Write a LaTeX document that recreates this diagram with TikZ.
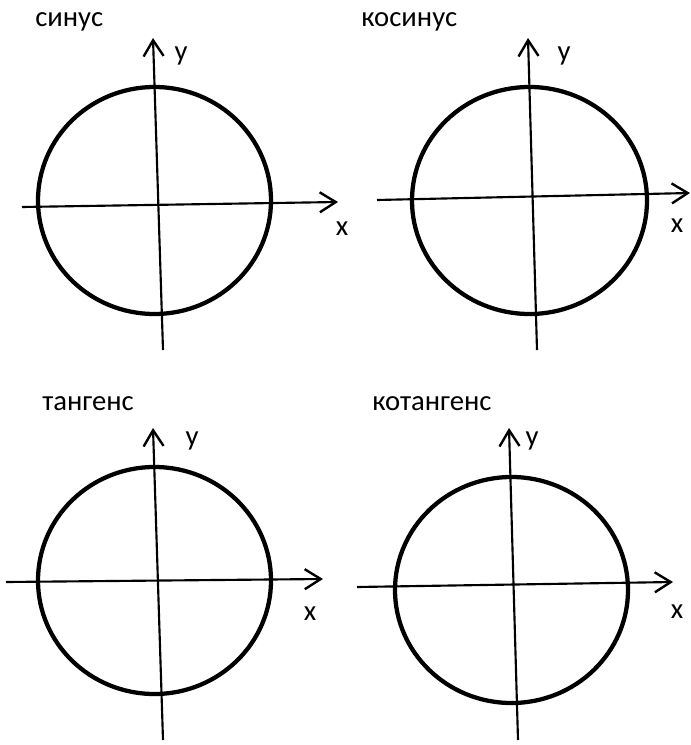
\documentclass[tikz,border=0pt]{standalone}
\usepackage{fontspec}
\setmainfont{Carlito}
\usepackage{tikz}
\usetikzlibrary{arrows.meta}
\tikzset{
  axis/.style={line width=1.6pt,-{Straight Barb[length=12pt,width=15pt,line width=1.8pt]}},
  rim/.style={line width=3.2pt},
  lbl/.style={inner sep=0pt,anchor=base,font=\fontsize{21.5}{26}\selectfont},
  ttl/.style={lbl,anchor=base west}
}
\begin{document}
\begin{tikzpicture}[x=0.75pt,y=-0.75pt]
  \useasboundingbox (0,0) rectangle (691,745);
  % sine
  \begin{scope}
    \node[ttl] (sinT) at (35,27) {синус};
    \coordinate (sinC) at (154.5,200.5);
    \coordinate (sinXa) at (22,207);  \coordinate (sinXb) at (338,202);
    \coordinate (sinYa) at (163,350); \coordinate (sinYb) at (153,38);
    \draw[rim] (sinC) ellipse [x radius=116.5,y radius=113.5];
    \draw[axis] (sinXa) -- (sinXb);
    \draw[axis] (sinYa) -- (sinYb);
    \node[lbl] (sinY) at (181,61) {y};
    \node[lbl] (sinX) at (342,235) {x};
  \end{scope}
  % cosine
  \begin{scope}[shift={(345,0)}]
    \node[ttl] (cosT) at (16,27) {косинус};
    \coordinate (cosC) at (184.5,200.5);
    \coordinate (cosXa) at (32,200);  \coordinate (cosXb) at (345,193);
    \coordinate (cosYa) at (192,350); \coordinate (cosYb) at (183,38);
    \draw[rim] (cosC) ellipse [x radius=117.5,y radius=113.5];
    \draw[axis] (cosXa) -- (cosXb);
    \draw[axis] (cosYa) -- (cosYb);
    \node[lbl] (cosY) at (219,61) {y};
    \node[lbl] (cosX) at (332,233) {x};
  \end{scope}
  % tangent
  \begin{scope}[shift={(0,380)}]
    \node[ttl] (tanT) at (42,30) {тангенс};
    \coordinate (tanC) at (154.5,200.5);
    \coordinate (tanXa) at (6,202);   \coordinate (tanXb) at (323,199);
    \coordinate (tanYa) at (163,360); \coordinate (tanYb) at (153,48);
    \draw[rim] (tanC) ellipse [x radius=116.5,y radius=113.5];
    \draw[axis] (tanXa) -- (tanXb);
    \draw[axis] (tanYa) -- (tanYb);
    \node[lbl] (tanY) at (192,65) {y};
    \node[lbl] (tanX) at (310,240) {x};
  \end{scope}
  % cotangent
  \begin{scope}[shift={(345,380)}]
    \node[ttl] (cotT) at (27,30) {котангенс};
    \coordinate (cotC) at (166.5,210);
    \coordinate (cotXa) at (12,207);  \coordinate (cotXb) at (328,202);
    \coordinate (cotYa) at (173,360); \coordinate (cotYb) at (164,48);
    \draw[rim] (cotC) ellipse [x radius=116.5,y radius=113];
    \draw[axis] (cotXa) -- (cotXb);
    \draw[axis] (cotYa) -- (cotYb);
    \node[lbl] (cotY) at (187,65) {y};
    \node[lbl] (cotX) at (332,238) {x};
  \end{scope}
\end{tikzpicture}
\end{document}
